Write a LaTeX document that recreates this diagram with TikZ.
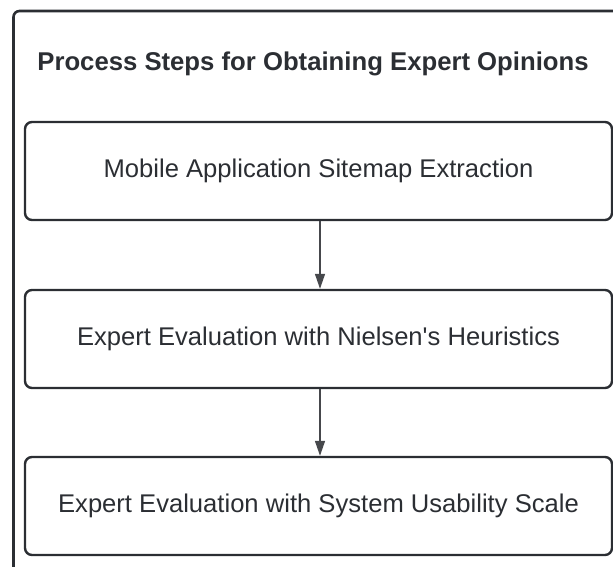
\documentclass[tikz,border=0pt]{standalone}
\usepackage{fontspec}
\setmainfont{Liberation Sans}
\usetikzlibrary{arrows.meta}
\definecolor{framegray}{RGB}{43,46,51}
\definecolor{linkgray}{RGB}{70,72,76}

\begin{document}
\begin{tikzpicture}[x=1pt,y=-1pt,
		stepbox/.style={draw=framegray, line width=2.4pt, rounded corners=7pt,
			minimum width=587pt, minimum height=98pt, inner sep=0pt,
			font=\fontsize{25.6}{30}\selectfont, text=framegray},
		link/.style={draw=linkgray, line width=1.4pt, -{Triangle[length=15pt,width=10pt]}}]
				\clip (0,0) rectangle (613,566);
				\draw [framegray, line width=2.6pt, rounded corners=6pt] (13.5,11) rectangle (660,620);
				\node [font=\bfseries\fontsize{25.7}{30}\selectfont, text=framegray] (title) at (313,64) {Process Steps for Obtaining Expert Opinions};
				\node [stepbox] (sitemap) at (318.5,171) {Mobile Application Sitemap Extraction};
				\node [stepbox] (nielsen) at (318.5,339) {Expert Evaluation with Nielsen\textquotesingle s Heuristics};
				\node [stepbox] (sus) at (318.5,506) {Expert Evaluation with System Usability Scale};
				\draw [link] (sitemap.south -| 320,0) -- (nielsen.north -| 320,0);
				\draw [link] (nielsen.south -| 320,0) -- (sus.north -| 320,0);
\end{tikzpicture}
\end{document}
